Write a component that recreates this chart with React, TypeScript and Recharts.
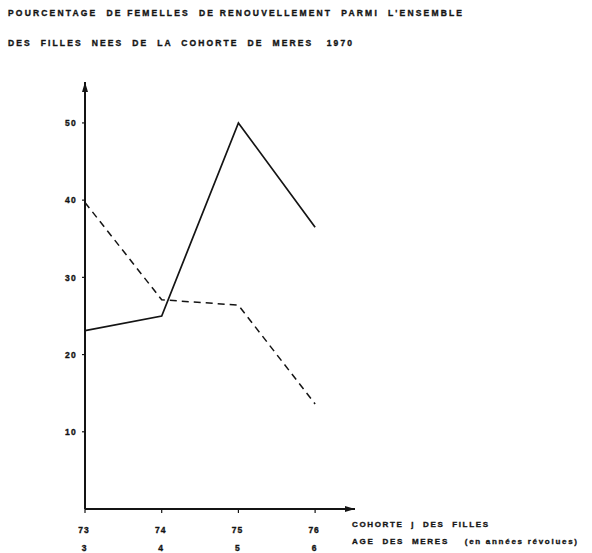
import React from 'react';
import { LineChart, Line, XAxis, YAxis, ReferenceDot } from 'recharts';

const cohorts = [73, 74, 75, 76];
const cohortLabels = ['73', '74', '75', '76'];
const ageLabels = ['3', '4', '5', '6'];
const solidSeries = [23.1, 25.0, 50.0, 36.5];
const dashedSeries = [39.7, 27.1, 26.4, 13.6];
const yTicks = [10, 20, 30, 40, 50];
const titleLines = [
  "POURCENTAGE  DE FEMELLES  DE RENOUVELLEMENT  PARMI  L'ENSEMBLE",
  'DES  FILLES  NEES  DE  LA  COHORTE  DE  MERES   1970',
];
const xCaption1 = 'COHORTE  j  DES  FILLES';
const xCaption2 = 'AGE  DES  MERES    (en années révolues)';

const X_MAX = 76.52;
const Y_MAX = 55.3;

const data = cohorts.map((c, i) => ({ c, solid: solidSeries[i], dashed: dashedSeries[i] }));

const FONT = '"Liberation Sans", Arial, sans-serif';
const INK = '#141414';
const TXT = { fontFamily: FONT, fontWeight: 'bold' as const, fill: INK, stroke: INK, strokeWidth: 0.35 };

const XTick = (props: any) => {
  const { x, y, payload } = props;
  const i = cohorts.indexOf(payload.value);
  return (
    <g>
      <text x={x - 1} y={y + 17.5} textAnchor="middle" fontSize={8.5} letterSpacing={1} {...TXT}>
        {cohortLabels[i]}
      </text>
      <text x={x - 1} y={y + 35.5} textAnchor="middle" fontSize={8.5} {...TXT}>
        {ageLabels[i]}
      </text>
    </g>
  );
};

const YTick = (props: any) => {
  const { x, y, payload } = props;
  return (
    <text x={x} y={y + 3.2} textAnchor="end" fontSize={8.5} letterSpacing={1.3} {...TXT}>
      {payload.value}
    </text>
  );
};

const XCaption = (props: any) => {
  const vb = props.viewBox || {};
  const baseY = vb.y ?? 509;
  return (
    <g fontSize={8} {...TXT}>
      <text x={352} y={baseY + 17.5} textLength={136} lengthAdjust="spacing" style={{ whiteSpace: 'pre' }}>{xCaption1}</text>
      <text x={352} y={baseY + 35} textLength={225} lengthAdjust="spacing" style={{ whiteSpace: 'pre' }}>{xCaption2}</text>
    </g>
  );
};

const UpArrow = (props: any) => {
  const { cx, cy } = props;
  return <path d={`M${cx},${cy} L${cx - 3},${cy + 10} L${cx + 3},${cy + 10} Z`} fill={INK} />;
};

const RightArrow = (props: any) => {
  const { cx, cy } = props;
  return <path d={`M${cx},${cy} L${cx - 10},${cy - 3} L${cx - 10},${cy + 3} Z`} fill={INK} />;
};

export default function App() {
  return (
    <div style={{ position: 'relative', width: 592, height: 553, background: '#fff' }}>
      <style>{`body{margin:0;background:#fff}`}</style>
      <svg width={592} height={60} style={{ position: 'absolute', left: 0, top: 0 }}>
        <text x={8} y={15.8} fontSize={8.5} {...TXT} textLength={454} lengthAdjust="spacing" style={{ whiteSpace: 'pre' }}>
          {titleLines[0]}
        </text>
        <text x={8} y={45.8} fontSize={8.5} {...TXT} textLength={344} lengthAdjust="spacing" style={{ whiteSpace: 'pre' }}>
          {titleLines[1]}
        </text>
      </svg>
      <LineChart
        width={592}
        height={553}
        data={data}
        margin={{ top: 82, right: 237, bottom: 0, left: 0 }}
        style={{ position: 'absolute', left: 0, top: 0 }}
      >
        <XAxis
          dataKey="c"
          type="number"
          domain={[73, X_MAX]}
          ticks={cohorts}
          allowDataOverflow
          height={44}
          axisLine={{ stroke: INK, strokeWidth: 2 }}
          tickLine={{ stroke: INK, strokeWidth: 1.2 }}
          tickSize={4}
          tick={<XTick />}
          interval={0}
          label={<XCaption />}
        />
        <YAxis
          type="number"
          domain={[0, Y_MAX]}
          ticks={yTicks}
          allowDataOverflow
          width={85}
          axisLine={{ stroke: INK, strokeWidth: 2 }}
          tickLine={{ stroke: INK, strokeWidth: 1.2 }}
          tickSize={3}
          tickMargin={5}
          tick={<YTick />}
          interval={0}
        />
        <Line
          dataKey="solid"
          type="linear"
          stroke={INK}
          strokeWidth={1.7}
          dot={false}
          activeDot={false}
          isAnimationActive={false}
        />
        <Line
          dataKey="dashed"
          type="linear"
          stroke={INK}
          strokeWidth={1.5}
          strokeDasharray="7 5"
          dot={false}
          activeDot={false}
          isAnimationActive={false}
        />
        <ReferenceDot x={73} y={Y_MAX} r={0} shape={<UpArrow />} ifOverflow="visible" />
        <ReferenceDot x={X_MAX} y={0} r={0} shape={<RightArrow />} ifOverflow="visible" />
      </LineChart>
    </div>
  );
}
